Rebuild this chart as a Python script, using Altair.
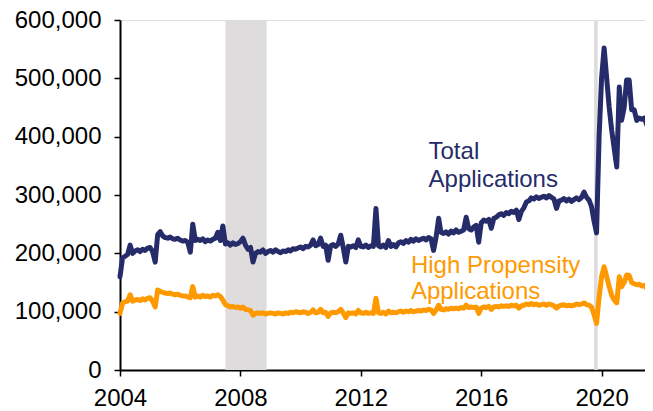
import altair as alt
import pandas as pd

# Monthly business applications, first month July 2004 (values in thousands)
total_k = [
    160, 192, 195, 198, 214, 200, 204, 206, 203, 207, 205, 209,
    210, 203, 185, 232, 237, 230, 227, 226, 228, 225, 224, 226,
    223, 221, 222, 219, 202, 250, 222, 224, 222, 225, 220, 223,
    221, 224, 226, 236, 222, 247, 216, 218, 214, 218, 215, 217,
    220, 226, 214, 207, 210, 185, 200, 203, 202, 206, 200, 203,
    205, 202, 206, 203, 201, 204, 203, 206, 204, 208, 207, 209,
    211, 208, 212, 211, 214, 223, 213, 215, 226, 212, 214, 188,
    213, 215, 212, 216, 231, 210, 185, 212, 211, 213, 210, 223,
    212, 211, 214, 210, 213, 212, 277, 213, 211, 214, 210, 222,
    212, 215, 211, 218, 220, 217, 222, 219, 224, 221, 225, 222,
    224, 226, 223, 227, 225, 205, 228, 260, 236, 234, 237, 233,
    238, 235, 240, 236, 238, 240, 262, 242, 240, 245, 248, 219,
    252, 257, 255, 258, 243, 260, 262, 266, 268, 265, 270, 268,
    272, 270, 274, 258, 272, 278, 288, 290, 295, 293, 297, 294,
    296, 298, 295, 299, 296, 293, 277, 290, 291, 294, 290, 293,
    289, 292, 295, 292, 296, 305, 296, 291, 280, 255, 235, 400,
    500, 552, 500, 451, 411, 380, 348, 485, 428, 450, 497, 497,
    446, 446, 428, 432, 430, 432, 420, 432,
]
high_k = [
    97, 115, 117, 118, 129, 118, 120, 121, 119, 122, 120, 123,
    124, 118, 108, 137, 135, 133, 132, 131, 132, 130, 129, 130,
    128, 127, 127, 125, 124, 143, 125, 127, 125, 128, 126, 127,
    125, 128, 127, 129, 126, 120, 112, 110, 108, 109, 107, 108,
    106, 108, 104, 103, 102, 94, 97, 98, 97, 98, 96, 97,
    98, 97, 96, 98, 97, 96, 98, 97, 99, 98, 100, 99,
    98, 100, 99, 97, 99, 103, 98, 99, 104, 98, 99, 92,
    98, 99, 98, 100, 104, 98, 90, 98, 97, 98, 96, 102,
    98, 97, 99, 97, 98, 97, 123, 98, 97, 99, 96, 101,
    98, 99, 98, 100, 101, 99, 101, 100, 102, 100, 101, 102,
    101, 103, 102, 104, 103, 97, 103, 111, 104, 103, 105, 104,
    106, 105, 106, 105, 107, 106, 111, 107, 108, 107, 108, 97,
    106, 108, 107, 109, 104, 108, 109, 108, 110, 109, 110, 109,
    111, 110, 111, 106, 110, 111, 113, 112, 114, 112, 113, 111,
    112, 113, 111, 113, 112, 110, 106, 110, 111, 112, 110, 111,
    110, 111, 113, 112, 113, 115, 112, 111, 108, 95, 80, 125,
    160, 177, 160, 143, 128, 120, 115, 160, 143, 150, 163, 162,
    150, 148, 146, 147, 144, 145, 140, 145,
]

series_names = ["Total Applications", "High Propensity Applications"]
series_colors = ["#262B69", "#FF9900"]

shade_start = ["2008-01-01", "2020-04-01"]
shade_end = ["2009-05-15", "2020-05-15"]

label_lines = ["Total", "Applications", "High Propensity", "Applications"]
label_dates = ["2014-10-01", "2014-10-01", "2014-03-01", "2014-03-01"]
label_values = [361000, 313500, 166000, 122500]
label_series = [series_names[0], series_names[0], series_names[1], series_names[1]]

tick_years = [2004, 2008, 2012, 2016, 2020]

dates = pd.date_range("2004-07-01", periods=len(total_k), freq="MS")
df = pd.concat([
    pd.DataFrame({"date": dates, "value": [v * 1000 for v in total_k], "series": series_names[0]}),
    pd.DataFrame({"date": dates, "value": [v * 1000 for v in high_k], "series": series_names[1]}),
])
shade_df = pd.DataFrame({"start": pd.to_datetime(shade_start), "end": pd.to_datetime(shade_end)})
labels_df = pd.DataFrame({
    "date": pd.to_datetime(label_dates), "value": label_values,
    "text": label_lines, "series": label_series,
})

first = dates[0]
x_domain = [
    alt.DateTime(year=first.year, month=first.month, date=1),
    alt.DateTime(year=2021, month=12, date=10),
]
x_scale = alt.Scale(domain=x_domain, nice=False)
y_scale = alt.Scale(domain=[0, 600000], nice=False)
color_scale = alt.Scale(domain=series_names, range=series_colors)

FONT = "Liberation Sans"

shade = alt.Chart(shade_df).mark_rect(color="#DEDCDD").encode(
    x=alt.X("start:T", scale=x_scale, title=None,
            axis=alt.Axis(values=[alt.DateTime(year=y, month=7, date=1) for y in tick_years],
                          format="%Y", labelFont=FONT, labelFontSize=24, labelColor="black",
                          domainColor="black", domainWidth=2, tickColor="black", tickWidth=1.5,
                          tickSize=6, labelPadding=10, grid=False, labelFlush=False)),
    x2="end:T",
    y=alt.value(0),
    y2=alt.value(350),
)

lines = alt.Chart(df).mark_line(strokeWidth=5, strokeJoin="round", strokeCap="round").encode(
    x=alt.X("date:T", scale=x_scale),
    y=alt.Y("value:Q", scale=y_scale, title=None,
            axis=alt.Axis(values=[0, 100000, 200000, 300000, 400000, 500000, 600000],
                          format=",d", labelFont=FONT, labelFontSize=24, labelColor="black",
                          domainColor="black", domainWidth=2, tickColor="black", tickWidth=1.5,
                          tickSize=6, labelPadding=13, grid=False)),
    color=alt.Color("series:N", scale=color_scale, legend=None),
    detail="series:N",
)

texts = alt.Chart(labels_df).mark_text(align="left", baseline="alphabetic", font=FONT, fontSize=24).encode(
    x=alt.X("date:T", scale=x_scale),
    y=alt.Y("value:Q", scale=y_scale),
    text="text:N",
    color=alt.Color("series:N", scale=color_scale, legend=None),
)

chart = alt.layer(shade, lines, texts).properties(
    width=525, height=350,
    autosize=alt.AutoSizeParams(type="none"),
    padding={"left": 112, "top": 12, "right": 0, "bottom": 40},
).configure_view(stroke=None).configure(background="white")

chart.save("out.html", embed_options={"renderer": "svg", "actions": False})
